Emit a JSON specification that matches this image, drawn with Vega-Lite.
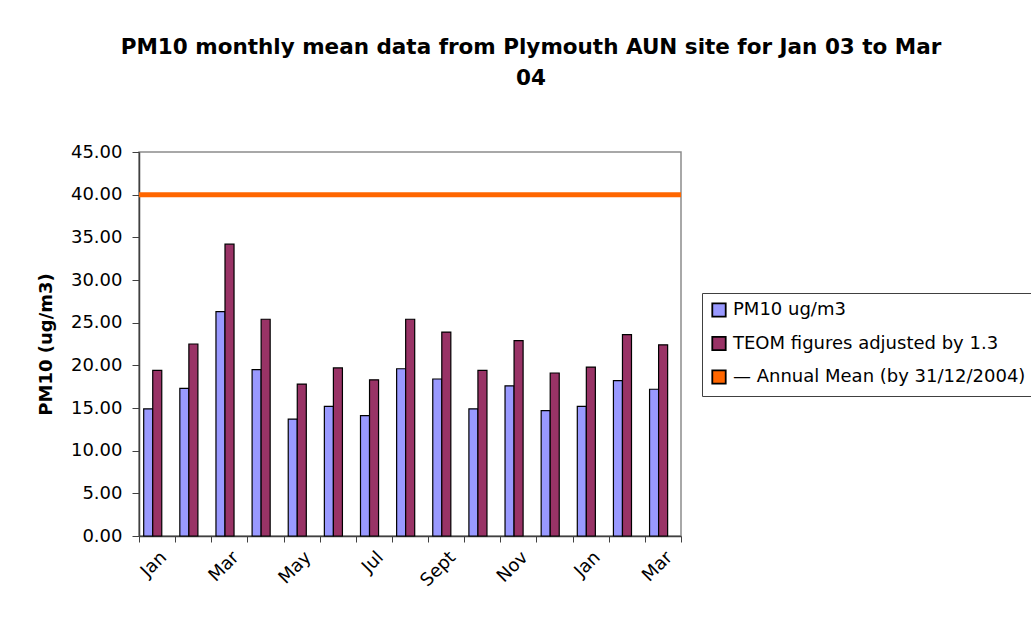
{
  "$schema": "https://vega.github.io/schema/vega-lite/v6.json",
  "width": 542,
  "height": 384,
  "autosize": "none",
  "padding": {"left": 139, "top": 152, "right": 350, "bottom": 83},
  "background": "white",
  "config": {
    "font": "DejaVu Sans",
    "view": {"stroke": "#8c8c8c", "strokeWidth": 1.5},
    "axis": {
      "domainColor": "#404040",
      "domainWidth": 1.5,
      "tickColor": "#404040",
      "tickWidth": 1,
      "labelColor": "black",
      "labelFont": "DejaVu Sans",
      "labelFontSize": 18,
      "grid": false
    }
  },
  "title": {
    "text": ["PM10 monthly mean data from Plymouth AUN site for Jan 03 to Mar", "04"],
    "font": "DejaVu Sans",
    "fontSize": 21.5,
    "fontWeight": "bold",
    "color": "black",
    "lineHeight": 31,
    "offset": 54,
    "dx": 121,
    "anchor": "middle"
  },
  "layer": [
    {
      "data": {
        "values": [
          {"month": "Jan 03", "series": "PM10 ug/m3", "value": 14.9},
          {"month": "Jan 03", "series": "TEOM figures adjusted by 1.3", "value": 19.4},
          {"month": "Feb 03", "series": "PM10 ug/m3", "value": 17.3},
          {"month": "Feb 03", "series": "TEOM figures adjusted by 1.3", "value": 22.5},
          {"month": "Mar 03", "series": "PM10 ug/m3", "value": 26.3},
          {"month": "Mar 03", "series": "TEOM figures adjusted by 1.3", "value": 34.2},
          {"month": "Apr 03", "series": "PM10 ug/m3", "value": 19.5},
          {"month": "Apr 03", "series": "TEOM figures adjusted by 1.3", "value": 25.4},
          {"month": "May 03", "series": "PM10 ug/m3", "value": 13.7},
          {"month": "May 03", "series": "TEOM figures adjusted by 1.3", "value": 17.8},
          {"month": "Jun 03", "series": "PM10 ug/m3", "value": 15.2},
          {"month": "Jun 03", "series": "TEOM figures adjusted by 1.3", "value": 19.7},
          {"month": "Jul 03", "series": "PM10 ug/m3", "value": 14.1},
          {"month": "Jul 03", "series": "TEOM figures adjusted by 1.3", "value": 18.3},
          {"month": "Aug 03", "series": "PM10 ug/m3", "value": 19.6},
          {"month": "Aug 03", "series": "TEOM figures adjusted by 1.3", "value": 25.4},
          {"month": "Sept 03", "series": "PM10 ug/m3", "value": 18.4},
          {"month": "Sept 03", "series": "TEOM figures adjusted by 1.3", "value": 23.9},
          {"month": "Oct 03", "series": "PM10 ug/m3", "value": 14.9},
          {"month": "Oct 03", "series": "TEOM figures adjusted by 1.3", "value": 19.4},
          {"month": "Nov 03", "series": "PM10 ug/m3", "value": 17.6},
          {"month": "Nov 03", "series": "TEOM figures adjusted by 1.3", "value": 22.9},
          {"month": "Dec 03", "series": "PM10 ug/m3", "value": 14.7},
          {"month": "Dec 03", "series": "TEOM figures adjusted by 1.3", "value": 19.1},
          {"month": "Jan 04", "series": "PM10 ug/m3", "value": 15.2},
          {"month": "Jan 04", "series": "TEOM figures adjusted by 1.3", "value": 19.8},
          {"month": "Feb 04", "series": "PM10 ug/m3", "value": 18.2},
          {"month": "Feb 04", "series": "TEOM figures adjusted by 1.3", "value": 23.6},
          {"month": "Mar 04", "series": "PM10 ug/m3", "value": 17.2},
          {"month": "Mar 04", "series": "TEOM figures adjusted by 1.3", "value": 22.4}
        ]
      },
      "mark": {"type": "bar", "stroke": "black", "strokeWidth": 1.2},
      "encoding": {
        "x": {
          "field": "month",
          "type": "nominal",
          "sort": null,
          "scale": {"paddingInner": 0, "paddingOuter": 0},
          "axis": {
            "title": null,
            "tickBand": "extent",
            "tickSize": 6,
            "labelAngle": -45,
            "labelPadding": 6,
            "labelOverlap": false,
            "labelExpr": "indexof(['Jan 03','Mar 03','May 03','Jul 03','Sept 03','Nov 03','Jan 04','Mar 04'], datum.value) >= 0 ? split(datum.value, ' ')[0] : ''"
          }
        },
        "xOffset": {
          "field": "series",
          "type": "nominal",
          "sort": ["PM10 ug/m3", "TEOM figures adjusted by 1.3"],
          "scale": {"domain": ["PM10 ug/m3", "TEOM figures adjusted by 1.3"], "paddingInner": 0, "paddingOuter": 1.12, "align": 0.26}
        },
        "y": {
          "field": "value",
          "type": "quantitative",
          "scale": {"domain": [0, 45], "nice": false},
          "axis": {
            "values": [0, 5, 10, 15, 20, 25, 30, 35, 40, 45],
            "format": ".2f",
            "title": "PM10 (ug/m3)",
            "titleFont": "DejaVu Sans",
            "titleFontSize": 18,
            "titleFontWeight": "bold",
            "titleColor": "black",
            "titlePadding": 15,
            "tickSize": 7,
            "labelPadding": 10
          }
        },
        "color": {
          "field": "series",
          "type": "nominal",
          "scale": {
            "domain": ["PM10 ug/m3", "TEOM figures adjusted by 1.3", "— Annual Mean (by 31/12/2004)"],
            "range": ["#9999ff", "#993366", "#ff6600"]
          },
          "legend": {
            "orient": "none",
            "legendX": 563,
            "legendY": 141,
            "title": null,
            "symbolType": "square",
            "symbolSize": 180,
            "symbolStrokeColor": "black",
            "symbolStrokeWidth": 1.8,
            "symbolOpacity": 1,
            "labelFont": "DejaVu Sans",
            "labelFontSize": 18,
            "labelColor": "black",
            "labelLimit": 400,
            "labelOffset": 5,
            "strokeColor": "#404040",
            "fillColor": "white",
            "padding": 8,
            "rowPadding": 11.5
          }
        }
      }
    },
    {
      "data": {"values": [{"mean": 40}]},
      "mark": {"type": "rule", "color": "#ff6600", "strokeWidth": 5},
      "encoding": {"y": {"field": "mean", "type": "quantitative"}}
    }
  ]
}
